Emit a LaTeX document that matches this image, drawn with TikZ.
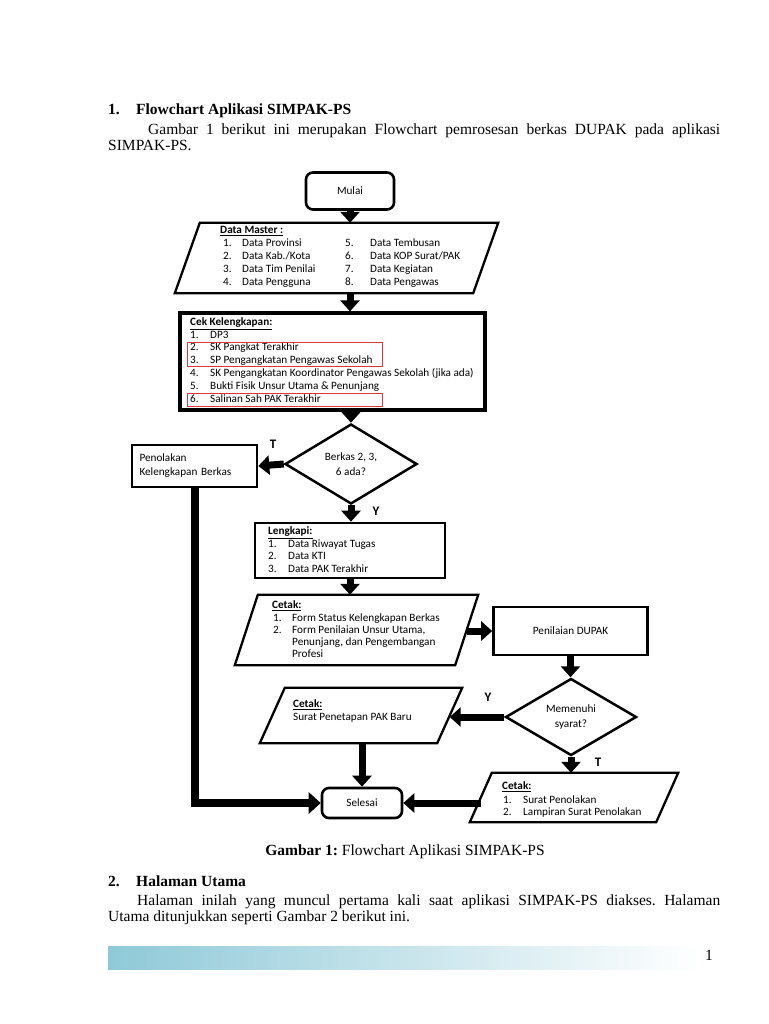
\documentclass[tikz,border=0pt]{standalone}
\usepackage{fontspec}
\setmainfont{Liberation Serif}
\newfontfamily\chartfont{Carlito}
\usetikzlibrary{arrows.meta,shapes.geometric,calc}
\definecolor{barteal}{RGB}{143,201,216}
\definecolor{markred}{RGB}{222,52,62}
\frenchspacing
% parallelogram drawn round an empty node: name, half slant
\newcommand{\ioshape}[2]{\draw[ioline] ($(#1.north west)+(#2,0)$) -- ($(#1.north east)+(#2,0)$) -- ($(#1.south east)+(-#2,0)$) -- ($(#1.south west)+(-#2,0)$) -- cycle;}

\begin{document}
\begin{tikzpicture}[x=1pt,y=-1pt,
	body/.style={font=\fontsize{15.5}{18}\selectfont, inner sep=0pt, anchor=west, text height=11pt, text depth=3.5pt},
	txt/.style={font=\chartfont\fontsize{11.2}{13}\selectfont, inner sep=0pt, anchor=west, text height=8pt, text depth=2.4pt},
	yt/.style={font=\chartfont\bfseries\fontsize{13}{15}\selectfont, inner sep=0pt},
	process/.style={draw, line width=2.6pt, inner sep=0pt, font=\chartfont\fontsize{11.2}{13}\selectfont},
	terminal/.style={process, rounded corners=7pt},
	decision/.style={diamond, draw, line width=2.5pt, inner sep=0pt, aspect=1.6, align=center, font=\chartfont\fontsize{11.2}{13}\selectfont},
	ioline/.style={draw, line width=2.3pt, line join=miter},
	fatarrow/.style={line width=7pt, -{Triangle[width=19pt,length=11pt]}},
	fatline/.style={line width=8pt, -{Triangle[width=21pt,length=12pt]}},
	redmark/.style={draw=markred, line width=1pt}]
	\fill[white] (0,0) rectangle (768,1024);
	\useasboundingbox (0,0) rectangle (768,1024);

	% page text above
	\node[body] (hnum) at (108,111) {\textbf{1.}};
	\node[body] (htitle) at (136,111) {\textbf{Flowchart Aplikasi SIMPAK-PS}};
	\node[body] (pone) at (148,131) {\makebox[572pt][s]{Gambar 1 berikut ini merupakan Flowchart pemrosesan berkas DUPAK pada aplikasi}};
	\node[body] (ptwo) at (108,147) {SIMPAK-PS.};

	% flowchart shapes
	\node[terminal, minimum width=88, minimum height=37] (mulai) at (350,191) {Mulai};
	\node[inner sep=0pt, minimum width=298, minimum height=70] (master) at (336.5,258) {};
	\ioshape{master}{12.5}
	\node[process, line width=3.2pt, minimum width=305, minimum height=97] (cek) at (332.5,361.5) {};
	\node[decision, minimum width=132, minimum height=80] (berkas) at (351,464) {Berkas 2, 3,\\[2pt]6 ada?};
	\node[process, minimum width=125, minimum height=42, text width=110, align=left] (penolakan) at (194.5,466) {Penolakan\\[1pt]Kelengkapan Berkas};
	\node[process, minimum width=190, minimum height=55] (lengkapi) at (350,550.5) {};
	\node[inner sep=0pt, minimum width=220, minimum height=70] (cetakA) at (356.5,630) {};
	\ioshape{cetakA}{11.5}
	\node[process, minimum width=154, minimum height=48] (penilaian) at (570.5,631) {Penilaian DUPAK};
	\node[decision, minimum width=131, minimum height=77] (syarat) at (571,717) {Memenuhi\\[2pt]syarat?};
	\node[inner sep=0pt, minimum width=177, minimum height=55] (cetakB) at (361,715.5) {};
	\ioshape{cetakB}{12.5}
	\node[terminal, minimum width=80, minimum height=30] (selesai) at (362,803) {Selesai};
	\node[inner sep=0pt, minimum width=186, minimum height=49] (cetakC) at (574,797.5) {};
	\ioshape{cetakC}{11}

	% Data Master
	\node[txt] (mtitle) at (220,231) {\underline{\textbf{Data Master :}}};
	\foreach \t [count=\i] in {Data Provinsi, {Data Kab./Kota}, Data Tim Penilai, Data Pengguna} {
		\node[txt] (mn\i) at (223,{231+13*\i}) {\i.};
		\node[txt] (mt\i) at (242,{231+13*\i}) {\t};
	}
	\foreach \t [count=\i from 5] in {Data Tembusan, {Data KOP Surat/PAK}, Data Kegiatan, Data Pengawas} {
		\node[txt] (mn\i) at (345,{231+13*(\i-4)}) {\i.};
		\node[txt] (mt\i) at (370,{231+13*(\i-4)}) {\t};
	}

	% Cek Kelengkapan
	\node[txt] (ctitle) at (190,323) {\underline{\textbf{Cek Kelengkapan:}}};
	\foreach \t [count=\i] in {DP3, SK Pangkat Terakhir, SP Pengangkatan Pengawas Sekolah, SK Pengangkatan Koordinator Pengawas Sekolah (jika ada), Bukti Fisik Unsur Utama \& Penunjang, Salinan Sah PAK Terakhir} {
		\node[txt] (cn\i) at (190,{322.5+12.8*\i}) {\i.};
		\node[txt] (ct\i) at (210,{322.5+12.8*\i}) {\t};
	}
	\draw[redmark] (187,342) rectangle (382,366);
	\draw[redmark] (187,393) rectangle (382,406);

	% Lengkapi
	\node[txt] (ltitle) at (268,532) {\underline{\textbf{Lengkapi:}}};
	\foreach \t [count=\i] in {Data Riwayat Tugas, Data KTI, Data PAK Terakhir} {
		\node[txt] (ln\i) at (268,{532+12.4*\i}) {\i.};
		\node[txt] (lt\i) at (288,{532+12.4*\i}) {\t};
	}

	% Cetak (berkas)
	\node[txt] (atitle) at (272,606) {\underline{\textbf{Cetak:}}};
	\node[txt] (an1) at (273,619) {1.};
	\node[txt] (at1) at (292,619) {Form Status Kelengkapan Berkas};
	\node[txt] (an2) at (273,631) {2.};
	\node[txt] (at2) at (292,631) {Form Penilaian Unsur Utama,};
	\node[txt] (at3) at (292,643) {Penunjang, dan Pengembangan};
	\node[txt] (at4) at (292,655) {Profesi};

	% Cetak (PAK baru)
	\node[txt] (btitle) at (293,705) {\underline{\textbf{Cetak:}}};
	\node[txt] (bt1) at (293,718) {Surat Penetapan PAK Baru};

	% Cetak (penolakan)
	\node[txt] (dtitle) at (502,787) {\underline{\textbf{Cetak:}}};
	\node[txt] (dn1) at (503,801) {1.};
	\node[txt] (dt1) at (523,801) {Surat Penolakan};
	\node[txt] (dn2) at (503,813) {2.};
	\node[txt] (dt2) at (523,813) {Lampiran Surat Penolakan};

	% connectors
	\draw[fatarrow] (mulai.south) -- (mulai.south |- master.north);
	\draw[fatarrow] (mulai.south |- master.south) -- (mulai.south |- cek.north);
	\draw[fatarrow] (berkas.north |- cek.south) -- (berkas.north);
	\draw[fatarrow] (berkas.west) -- (penolakan.east);
	\draw[fatarrow] (berkas.south) -- (berkas.south |- lengkapi.north);
	\draw[fatarrow] (lengkapi.south) -- (lengkapi.south |- cetakA.north);
	\draw[fatarrow] (cetakA.east |- penilaian.west) -- (penilaian.west);
	\draw[fatarrow] (penilaian.south) -- (penilaian.south |- syarat.north);
	\draw[fatarrow] (syarat.west) -- (syarat.west -| cetakB.east);
	\draw[fatarrow] (syarat.south) -- (syarat.south |- cetakC.north);
	\draw[fatarrow] (selesai.north |- cetakB.south) -- (selesai.north);
	\draw[fatarrow] (cetakC.west |- selesai.east) -- (selesai.east);
	\draw[fatline] (penolakan.south) |- (selesai.west);
	\node[yt] (tA) at (273,444) {T};
	\node[yt] (yA) at (376,511) {Y};
	\node[yt] (yB) at (488,697) {Y};
	\node[yt] (tB) at (598,762) {T};

	% page text below
	\node[body, anchor=center] (caption) at (405,852) {\textbf{Gambar 1:} Flowchart Aplikasi SIMPAK-PS};
	\node[body] (hnumB) at (108,883) {\textbf{2.}};
	\node[body] (htitleB) at (136,883) {\textbf{Halaman Utama}};
	\node[body] (pthree) at (137,902) {\makebox[583pt][s]{Halaman inilah yang muncul pertama kali saat aplikasi SIMPAK-PS diakses. Halaman}};
	\node[body] (pfour) at (108,918) {Utama ditunjukkan seperti Gambar 2 berikut ini.};
	\shade[left color=barteal, right color=white] (108,946) rectangle (700,969);
	\node[body] (pageno) at (705,957) {1};
\end{tikzpicture}
\end{document}
